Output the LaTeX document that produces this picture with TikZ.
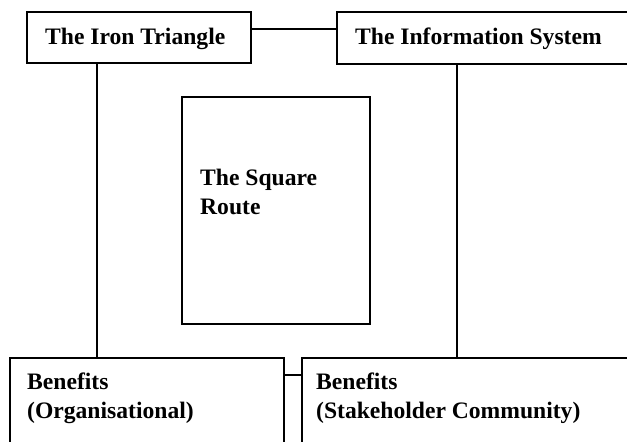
\documentclass[tikz,border=0pt]{standalone}
\usepackage{fontspec}
\setmainfont{Liberation Serif}
\usetikzlibrary{fit}
\begin{document}
\begin{tikzpicture}[x=1pt,y=-1pt,
  box/.style={draw, line width=1.8pt, inner sep=0pt},
  conn/.style={line width=1.8pt},
  lbl/.style={anchor=base west, inner sep=0pt, font=\fontsize{23.6}{28.5}\selectfont\bfseries, align=left}]
\useasboundingbox (0,0) rectangle (627,442);
\coordinate (b1a) at (27,12);  \coordinate (b1b) at (251,63);
\coordinate (b2a) at (337,12); \coordinate (b2b) at (640,64);
\coordinate (sqa) at (182,97); \coordinate (sqb) at (370,324);
\coordinate (b3a) at (10,358); \coordinate (b3b) at (284,470);
\coordinate (b4a) at (302,358); \coordinate (b4b) at (640,470);
\node[box, fit=(b1a)(b1b)] (iron) {};
\node[box, fit=(b2a)(b2b)] (info) {};
\node[box, fit=(sqa)(sqb)] (square) {};
\node[box, fit=(b3a)(b3b)] (org) {};
\node[box, fit=(b4a)(b4b)] (stake) {};
\node[lbl] (t1) at (45,44) {The Iron Triangle};
\node[lbl] (t2) at (355,44) {The Information System};
\node[lbl] (t3) at (200,214) {The Square\\Route};
\node[lbl] (t4) at (27,418) {Benefits\\(Organisational)};
\node[lbl] (t5) at (316,418) {Benefits\\(Stakeholder Community)};
\draw[conn] (iron.east |- 0,29) -- (info.west |- 0,29);
\draw[conn] (iron.south -| 97,0) -- (org.north -| 97,0);
\draw[conn] (info.south -| 457,0) -- (stake.north -| 457,0);
\draw[conn] (org.east |- 0,375) -- (stake.west |- 0,375);
\end{tikzpicture}
\end{document}
